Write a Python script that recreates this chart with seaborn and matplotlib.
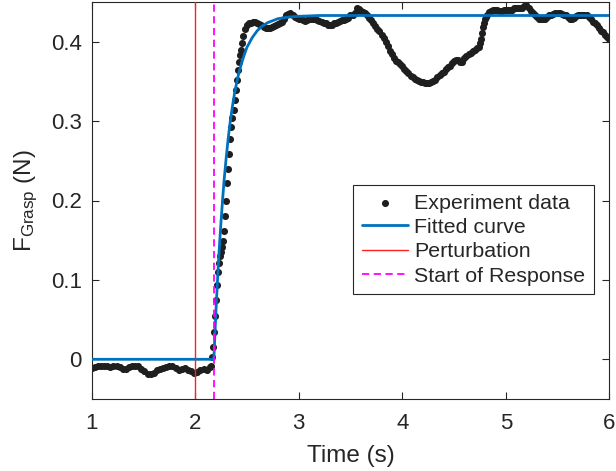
import numpy as np
import matplotlib
matplotlib.use('Agg')
import matplotlib.pyplot as plt
import seaborn as sns

# experiment data (sample times per segment)
t_base = np.round(np.arange(1.00, 2.145, 0.03), 2)
f_base = [-0.011, -0.010, -0.009, -0.009, -0.008, -0.009, -0.010, -0.009, -0.008, -0.010,
          -0.012, -0.012, -0.010, -0.008, -0.008, -0.009, -0.012, -0.015, -0.018, -0.019,
          -0.017, -0.013, -0.012, -0.011, -0.010, -0.009, -0.009, -0.011, -0.013, -0.012,
          -0.011, -0.013, -0.015, -0.017, -0.016, -0.013, -0.012, -0.014, -0.010]

t_rise = np.round(np.arange(2.15, 2.455, 0.01), 2)
f_rise = [-0.008, 0.003, 0.015, 0.034, 0.054, 0.075, 0.094, 0.110, 0.121, 0.130,
          0.135, 0.142, 0.149, 0.162, 0.180, 0.200, 0.222, 0.240, 0.259, 0.278,
          0.293, 0.304, 0.314, 0.327, 0.339, 0.352, 0.364, 0.375, 0.383, 0.390,
          0.398]

t_plat1 = np.round(np.arange(2.46, 4.745, 0.02), 2)
f_plat1 = [0.407, 0.416, 0.421, 0.423, 0.424, 0.425, 0.425, 0.424, 0.422, 0.421,
           0.419, 0.417, 0.417, 0.417, 0.419, 0.420, 0.421, 0.422, 0.423, 0.425,
           0.428, 0.433, 0.435, 0.436, 0.434, 0.431, 0.430, 0.429, 0.428, 0.427,
           0.426, 0.427, 0.428, 0.428, 0.428, 0.429, 0.427, 0.426, 0.425, 0.424,
           0.423, 0.421, 0.421, 0.421, 0.423, 0.424, 0.425, 0.426, 0.427, 0.427,
           0.428, 0.430, 0.433, 0.434, 0.436, 0.442, 0.441, 0.439, 0.437, 0.436,
           0.433, 0.430, 0.427, 0.424, 0.420, 0.416, 0.413, 0.409, 0.405, 0.399,
           0.394, 0.388, 0.384, 0.379, 0.376, 0.374, 0.372, 0.369, 0.366, 0.363,
           0.360, 0.357, 0.355, 0.353, 0.352, 0.350, 0.349, 0.349, 0.348, 0.348,
           0.348, 0.349, 0.350, 0.352, 0.355, 0.358, 0.360, 0.362, 0.365, 0.368,
           0.370, 0.373, 0.376, 0.377, 0.377, 0.374, 0.375, 0.379, 0.382, 0.384,
           0.386, 0.388, 0.390, 0.392, 0.393]

t_jump = np.round(np.arange(4.75, 4.815, 0.01), 2)
f_jump = [0.398, 0.404, 0.411, 0.418, 0.424, 0.428, 0.431]

t_plat2 = np.round(np.arange(4.82, 6.005, 0.02), 2)
f_plat2 = [0.434, 0.437, 0.439, 0.440, 0.440, 0.440, 0.439, 0.439, 0.440, 0.440,
           0.440, 0.440, 0.440, 0.442, 0.443, 0.442, 0.442, 0.443, 0.445, 0.446,
           0.443, 0.439, 0.436, 0.433, 0.431, 0.429, 0.428, 0.428, 0.429, 0.431,
           0.433, 0.434, 0.435, 0.436, 0.436, 0.436, 0.435, 0.434, 0.433, 0.431,
           0.429, 0.428, 0.430, 0.432, 0.433, 0.434, 0.434, 0.434, 0.433, 0.431,
           0.428, 0.425, 0.423, 0.421, 0.417, 0.414, 0.412, 0.409, 0.406, 0.403]

# fitted curve
fit_t = [1.00, 2.18, 2.19, 2.20, 2.21, 2.22, 2.235, 2.25, 2.265, 2.28,
         2.30, 2.32, 2.34, 2.36, 2.38, 2.40, 2.42, 2.45, 2.475, 2.50,
         2.55, 2.60, 2.65, 2.70, 2.80, 2.90, 3.00, 3.20, 3.50, 4.00, 6.00]
fit_f = [0.000, 0.000, 0.031, 0.060, 0.086, 0.111, 0.145, 0.175, 0.202, 0.227,
         0.255, 0.280, 0.301, 0.319, 0.335, 0.348, 0.360, 0.374, 0.384, 0.393,
         0.405, 0.414, 0.420, 0.424, 0.429, 0.431, 0.432, 0.433, 0.433, 0.433, 0.433]

t_perturb = 2.0
t_response = 2.185

y_ticks = [0, 0.1, 0.2, 0.3, 0.4]
y_ticklabels = ['0', '0.1', '0.2', '0.3', '0.4']
x_ticks = [1, 2, 3, 4, 5, 6]

t_exp = np.concatenate([t_base, t_rise, t_plat1, t_jump, t_plat2])
f_exp = np.array(f_base + f_rise + f_plat1 + f_jump + f_plat2)

sns.set_style('white')
plt.rcParams['font.family'] = ['Liberation Sans', 'DejaVu Sans']
plt.rcParams['mathtext.fontset'] = 'custom'
plt.rcParams['mathtext.rm'] = 'Liberation Sans'
plt.rcParams['mathtext.it'] = 'Liberation Sans:italic'

fig = plt.figure(figsize=(6.16, 4.71), dpi=100)
ax = fig.add_axes([91.7 / 616, 1 - 399 / 471, (609.3 - 91.7) / 616, 397 / 471])

sns.scatterplot(x=t_exp, y=f_exp, color='#1f1f1f', s=26, linewidth=0,
                label='Experiment data', zorder=2, ax=ax)
sns.lineplot(x=fit_t, y=fit_f, color='#0072BD', linewidth=2,
             label='Fitted curve', zorder=3, ax=ax)
ax.axvline(t_perturb, color='#FF2020', linewidth=1.0, label='Perturbation', zorder=4)
ax.axvline(t_response, color='#FF00FF', linewidth=1.3, dashes=(4, 2.5),
           label='Start of Response', zorder=4)

ax.set_xlim(1, 6)
ax.set_ylim(-0.05, 0.45)
ax.set_xticks(x_ticks)
ax.set_yticks(y_ticks)
ax.set_yticklabels(y_ticklabels)

for sp in ax.spines.values():
    sp.set_visible(True)
    sp.set_color('#262626')
    sp.set_linewidth(0.8)
ax.tick_params(direction='in', top=True, right=True, bottom=True, left=True,
               length=5, width=0.8, color='#262626', labelcolor='#262626',
               labelsize=16, pad=7)
ax.tick_params(axis='x', pad=10)

ax.set_xlabel('Time (s)', fontsize=17.5, color='#262626', labelpad=8)
ax.set_ylabel(r'F$_{\mathrm{Grasp}}$ (N)', fontsize=17.5, color='#262626', labelpad=8)

leg = ax.legend(loc='upper left', bbox_to_anchor=(0.505, 0.539), fontsize=15.4,
                frameon=True, fancybox=False, edgecolor='#262626', framealpha=1,
                borderpad=0.4, labelspacing=0.25, handlelength=2.15,
                handletextpad=0.31, borderaxespad=0)
leg.get_frame().set_linewidth(0.8)

fig.savefig('out.png', dpi=100)
